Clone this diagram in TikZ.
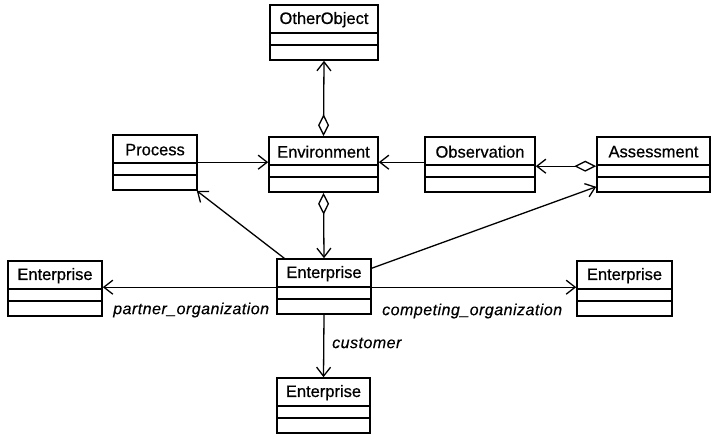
\documentclass[tikz,border=0pt]{standalone}
\usepackage{fontspec}
\setmainfont{Liberation Sans}
\newfontfamily\boxfont[FakeBold=0.6]{Liberation Sans}
\newfontfamily\rolefont[FakeBold=0.3, LetterSpace=3]{Liberation Sans}
\usetikzlibrary{arrows.meta}

\tikzset{
  umlbox/.style={draw, line width=1.6pt, minimum height=55pt, inner sep=0pt, fill=white},
  umlname/.style={inner sep=0pt, font=\boxfont\fontsize{16.5}{18}\selectfont},
  conn/.style={line width=1.3pt},
  nav/.style={conn, -{Straight Barb[length=9pt, width=14pt, line width=1.3pt]}},
  agg/.style={conn, {Diamond[open, length=22pt, width=11pt, line width=1.3pt]}-{Straight Barb[length=9pt, width=14pt, line width=1.3pt]}},
  role/.style={inner sep=0pt, anchor=west, font=\rolefont\itshape\fontsize{16}{18}\selectfont}
}

% class box: name, centre x, top y, width, class name
\newcommand\umlclass[5]{%
  \node[umlbox, minimum width=#4pt] (#1) at (#2, #3+27.5) {};
  \draw[line width=1.6pt] ([yshift=-29pt]#1.north west) -- ([yshift=-29pt]#1.north east);
  \draw[line width=1.6pt] ([yshift=-41pt]#1.north west) -- ([yshift=-41pt]#1.north east);
  \node[umlname] (#1-name) at ([yshift=-15.5pt]#1.north) {#5};
}

\begin{document}
\begin{tikzpicture}[x=1pt, y=-1pt]
  \useasboundingbox (0,0) rectangle (711,438);

  \umlclass{other}{324}{5}{108}{OtherObject}
  \umlclass{proc}{155}{135}{84}{Process}
  \umlclass{env}{323.5}{137}{109}{Environment}
  \umlclass{obs}{480}{137}{110}{Observation}
  \umlclass{ass}{653.5}{137}{113}{Assessment}
  \umlclass{entl}{55}{261}{94}{Enterprise}
  \umlclass{entc}{324}{259}{94}{Enterprise}
  \umlclass{entr}{624.5}{261}{95}{Enterprise}
  \umlclass{entb}{323.5}{378}{93}{Enterprise}

  % aggregations
  \draw[agg] (env.north) -- (other.south);
  \draw[agg] (env.south) -- (entc.north);
  \draw[agg] ([yshift=-30pt]ass.north west) -- ([yshift=-30pt]obs.north east);

  % navigable associations
  \draw[nav] ([yshift=-28pt]proc.north east) -- ([yshift=-26pt]env.north west);
  \draw[nav] ([yshift=-26pt]obs.north west) -- ([yshift=-26pt]env.north east);
  \draw[nav] ([xshift=8pt]entc.north west) -- ([xshift=-1pt]proc.south east);
  \draw[nav] ([yshift=-10pt]entc.north east) -- ([yshift=6pt]ass.south west);
  \draw[nav] ([yshift=-29pt]entc.north west) -- ([yshift=-27pt]entl.north east);
  \draw[nav] ([yshift=-29pt]entc.north east) -- ([yshift=-27pt]entr.north west);
  \draw[nav] (entc.south) -- (entb.north);

  % role names
  \node[role] (partner) at (113,310) {partner\_organization};
  \node[role] (competing) at (382,311) {competing\_organization};
  \node[role] (customer) at (332,343) {customer};
\end{tikzpicture}
\end{document}
